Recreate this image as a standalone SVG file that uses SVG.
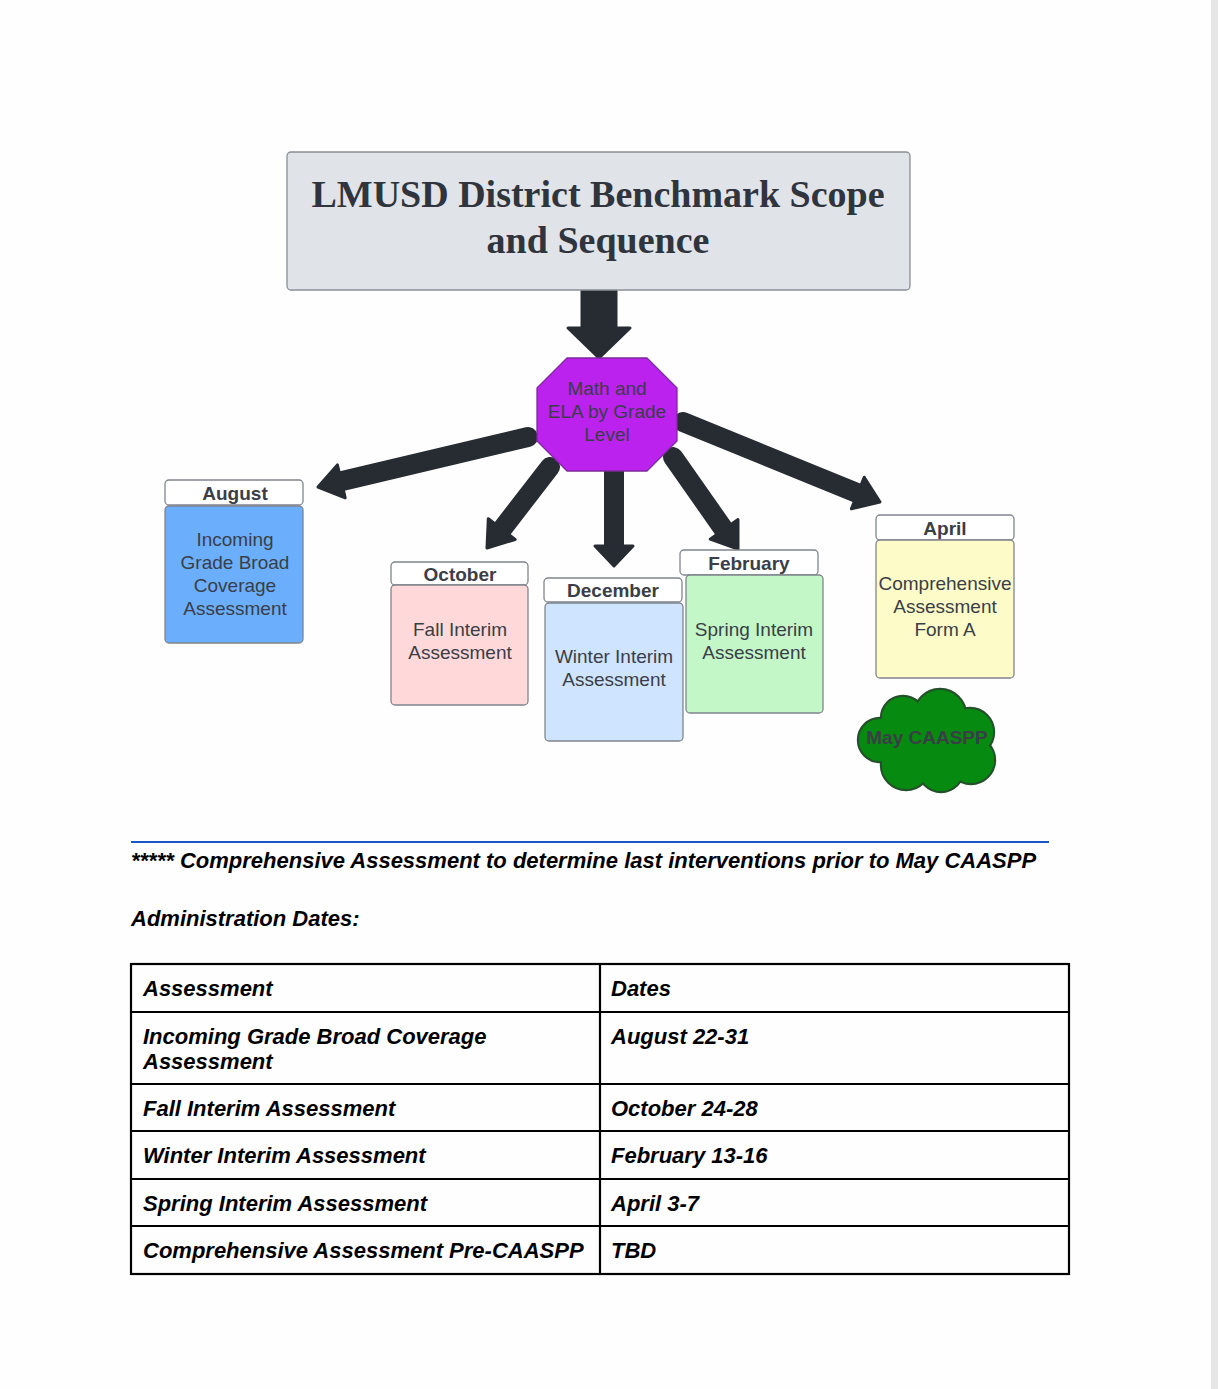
<svg xmlns="http://www.w3.org/2000/svg" width="1218" height="1389" viewBox="0 0 1218 1389">
<style>
.bx{stroke:#80858d;stroke-width:1.3}
.hd{fill:#ffffff;stroke:#80858d;stroke-width:1.3}
.t{font-family:"Liberation Sans",Arial,sans-serif;font-size:19px;fill:#3a3e47;text-anchor:middle}
.tb{font-family:"Liberation Sans",Arial,sans-serif;font-size:19px;font-weight:bold;fill:#3a3e47;text-anchor:middle}
.doc{font-family:"Liberation Sans",Arial,sans-serif;font-size:22px;font-weight:bold;font-style:italic;fill:#000}
.arr{stroke:#272b32;stroke-width:20;fill:none;stroke-linecap:round}
.ah{fill:#272b32;stroke:#272b32;stroke-width:3;stroke-linejoin:round}
.tl{stroke:#000;stroke-width:2.2}
</style>
<rect x="0" y="0" width="1218" height="1389" fill="#fefefe"/>
<rect x="1211" y="0" width="7" height="1389" fill="#e6e6e6"/>

<g id="connectors">
<path class="ah" d="M582,291 L616,291 L616,328 L630,328 L599,358 L568,328 L582,328 Z"/>
<line class="arr" x1="528" y1="437" x2="338" y2="482"/>
<polygon class="ah" points="318,487 337.4,464.9 345.2,497.9"/>
<line class="arr" x1="550" y1="467" x2="499" y2="533"/>
<polygon class="ah" points="487,548 488.3,518.7 515.1,539.5"/>
<line class="arr" x1="614" y1="468" x2="614" y2="548" style="stroke-linecap:butt"/>
<polygon class="ah" points="595,546 633,546 614,566"/>
<line class="arr" x1="673" y1="457" x2="727" y2="534"/>
<polygon class="ah" points="738,549 710.2,539.2 738,519.6"/>
<line class="arr" x1="683" y1="422" x2="862" y2="495"/>
<polygon class="ah" points="880,502 851.4,508.8 864.2,477.2"/>
</g>

<g id="title">
<rect x="287" y="152" width="623" height="138" rx="4" fill="#e0e3e7" stroke="#8a8e95" stroke-width="1.3"/>
<text x="598" y="207" font-family="'Liberation Serif','Times New Roman',serif" font-size="38" font-weight="bold" fill="#30343c" text-anchor="middle">LMUSD District Benchmark Scope</text>
<text x="598" y="253" font-family="'Liberation Serif','Times New Roman',serif" font-size="38" font-weight="bold" fill="#30343c" text-anchor="middle">and Sequence</text>
</g>

<g id="hub">
<polygon points="567,358 647,358 677,388 677,441 647,471 567,471 537,441 537,388" fill="#bb22ee" stroke="#7d2a9c" stroke-width="1.3" stroke-linejoin="round"/>
<text class="t" x="607" y="395">Math and</text>
<text class="t" x="607" y="418">ELA by Grade</text>
<text class="t" x="607" y="441">Level</text>
</g>

<g id="august">
<rect class="hd" x="165" y="480" width="138" height="25" rx="4"/>
<text class="tb" x="235" y="500">August</text>
<rect class="bx" x="165" y="506" width="138" height="137" rx="4" fill="#6aaefc"/>
<text class="t" x="235" y="546">Incoming</text>
<text class="t" x="235" y="569">Grade Broad</text>
<text class="t" x="235" y="592">Coverage</text>
<text class="t" x="235" y="615">Assessment</text>
</g>

<g id="october">
<rect class="hd" x="391" y="562" width="137" height="23" rx="4"/>
<text class="tb" x="460" y="581">October</text>
<rect class="bx" x="391" y="585" width="137" height="120" rx="4" fill="#ffd8d9"/>
<text class="t" x="460" y="636">Fall Interim</text>
<text class="t" x="460" y="659">Assessment</text>
</g>

<g id="december">
<rect class="hd" x="544" y="578" width="138" height="24" rx="4"/>
<text class="tb" x="613" y="597">December</text>
<rect class="bx" x="545" y="603" width="138" height="138" rx="4" fill="#cfe4ff"/>
<text class="t" x="614" y="663">Winter Interim</text>
<text class="t" x="614" y="686">Assessment</text>
</g>

<g id="february">
<rect class="hd" x="680" y="550" width="138" height="25" rx="4"/>
<text class="tb" x="749" y="570">February</text>
<rect class="bx" x="686" y="575" width="137" height="138" rx="4" fill="#c3f7c8"/>
<text class="t" x="754" y="636">Spring Interim</text>
<text class="t" x="754" y="659">Assessment</text>
</g>

<g id="april">
<rect class="hd" x="876" y="515" width="138" height="25" rx="4"/>
<text class="tb" x="945" y="535">April</text>
<rect class="bx" x="876" y="540" width="138" height="138" rx="4" fill="#fdfbc8"/>
<text class="t" x="945" y="590">Comprehensive</text>
<text class="t" x="945" y="613">Assessment</text>
<text class="t" x="945" y="636">Form A</text>
</g>

<g id="may">
<g fill="#078a10" stroke="#25512a" stroke-width="2.4">
<circle cx="903" cy="718" r="22"/>
<circle cx="940" cy="715" r="26"/>
<circle cx="970" cy="732" r="24"/>
<circle cx="880" cy="740" r="22"/>
<circle cx="971" cy="760" r="24"/>
<circle cx="906" cy="765" r="25"/>
<circle cx="941" cy="769" r="23"/>
</g>
<g fill="#078a10">
<circle cx="903" cy="718" r="21"/>
<circle cx="940" cy="715" r="25"/>
<circle cx="970" cy="732" r="23"/>
<circle cx="880" cy="740" r="21"/>
<circle cx="971" cy="760" r="23"/>
<circle cx="906" cy="765" r="24"/>
<circle cx="941" cy="769" r="22"/>
<circle cx="928" cy="742" r="38"/>
</g>
<text class="tb" x="927" y="744">May CAASPP</text>
</g>

<g id="notes">
<line x1="131" y1="842" x2="1049" y2="842" stroke="#1a56c8" stroke-width="2"/>
<text class="doc" x="131" y="868">***** Comprehensive Assessment to determine last interventions prior to May CAASPP</text>
<text class="doc" x="131" y="926">Administration Dates:</text>
</g>

<g id="table">
<rect x="131" y="964" width="938" height="310" fill="none" class="tl"/>
<line class="tl" x1="600" y1="964" x2="600" y2="1274"/>
<line class="tl" x1="131" y1="1012" x2="1069" y2="1012"/>
<line class="tl" x1="131" y1="1084" x2="1069" y2="1084"/>
<line class="tl" x1="131" y1="1131" x2="1069" y2="1131"/>
<line class="tl" x1="131" y1="1179" x2="1069" y2="1179"/>
<line class="tl" x1="131" y1="1226" x2="1069" y2="1226"/>
<text class="doc" x="143" y="996">Assessment</text>
<text class="doc" x="611" y="996">Dates</text>
<text class="doc" x="143" y="1044">Incoming Grade Broad Coverage</text>
<text class="doc" x="143" y="1069">Assessment</text>
<text class="doc" x="611" y="1044">August 22-31</text>
<text class="doc" x="143" y="1116">Fall Interim Assessment</text>
<text class="doc" x="611" y="1116">October 24-28</text>
<text class="doc" x="143" y="1163">Winter Interim Assessment</text>
<text class="doc" x="611" y="1163">February 13-16</text>
<text class="doc" x="143" y="1211">Spring Interim Assessment</text>
<text class="doc" x="611" y="1211">April 3-7</text>
<text class="doc" x="143" y="1258">Comprehensive Assessment Pre-CAASPP</text>
<text class="doc" x="611" y="1258">TBD</text>
</g>
</svg>
